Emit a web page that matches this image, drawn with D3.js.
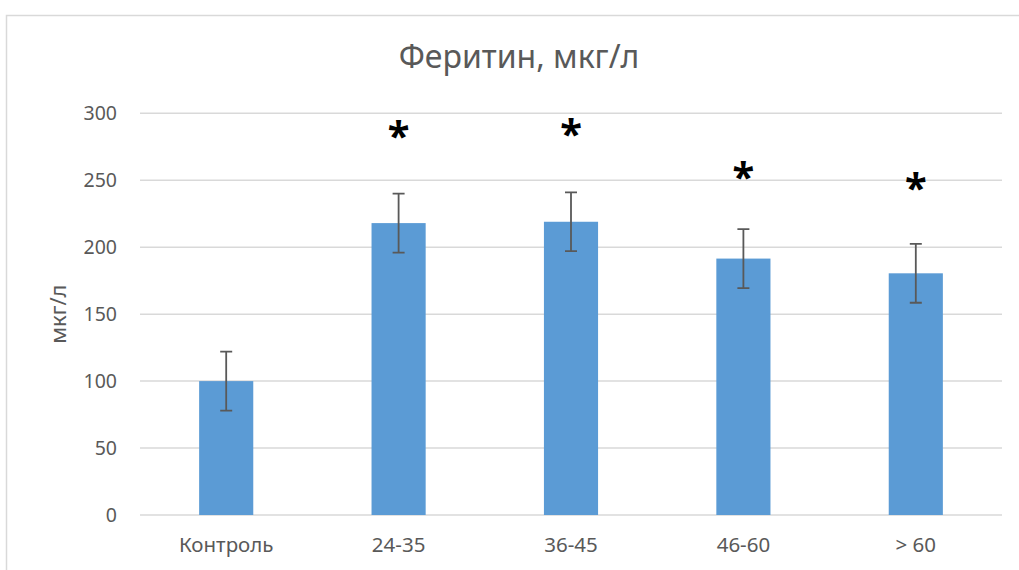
<!DOCTYPE html>
<html>
<head>
<meta charset="utf-8">
<script src="https://cdn.jsdelivr.net/npm/d3@7"></script>
<style>
  body { margin: 0; background: #fff; }
  svg { display: block; }
  text { font-family: "Noto Sans", "Open Sans", sans-serif; fill: #595959; }
</style>
</head>
<body>
<div id="chart"></div>
<script>
// data
const categories = ["Контроль", "24-35", "36-45", "46-60", "> 60"];
const means = [100, 218, 219, 191.5, 180.5];
const errors = [22, 22, 22, 22, 22];
const starLevels = [null, 287, 288, 256, 248];
const yTicks = [0, 50, 100, 150, 200, 250, 300];

const width = 1019, height = 570;
const margin = {top: 113.3, right: 17, bottom: 55, left: 140};

const svg = d3.select("#chart").append("svg")
    .attr("width", width)
    .attr("height", height);

// chart frame (only top and left edges visible)
svg.append("path")
    .attr("d", "M6.5,570 V15.5 H1019")
    .attr("fill", "none")
    .attr("stroke", "#d9d9d9")
    .attr("stroke-width", 1.5);

const x = d3.scaleBand()
    .domain(categories)
    .range([margin.left, width - margin.right])
    .paddingInner(0.686)
    .paddingOuter(0.343);

const y = d3.scaleLinear()
    .domain([0, 300])
    .range([height - margin.bottom, margin.top]);

// gridlines
svg.append("g")
    .selectAll("line")
    .data(yTicks)
    .enter()
    .append("line")
    .attr("x1", margin.left)
    .attr("x2", width - margin.right)
    .attr("y1", d => y(d))
    .attr("y2", d => y(d))
    .attr("stroke", "#d9d9d9")
    .attr("stroke-width", 1.5);

// y axis labels
const yAxis = d3.axisLeft(y).tickValues(yTicks).tickSize(0).tickPadding(23);
svg.append("g")
    .attr("transform", `translate(${margin.left},0)`)
    .call(yAxis)
    .call(g => g.select(".domain").remove())
    .selectAll("text")
    .style("font-family", "Noto Sans")
    .style("font-size", "19.5px")
    .attr("fill", "#595959");

// x axis labels
const xAxis = d3.axisBottom(x).tickSize(0).tickPadding(22);
svg.append("g")
    .attr("transform", `translate(0,${y(0)})`)
    .call(xAxis)
    .call(g => g.select(".domain").remove())
    .selectAll("text")
    .style("font-family", "Noto Sans")
    .style("font-size", "20.5px")
    .attr("fill", "#595959");

// bars
svg.append("g")
    .selectAll("rect")
    .data(means)
    .enter()
    .append("rect")
    .attr("x", (d, i) => x(categories[i]))
    .attr("width", x.bandwidth())
    .attr("y", d => y(d))
    .attr("height", d => y(0) - y(d))
    .attr("fill", "#5b9bd5");

// error bars
const eb = svg.append("g")
    .attr("stroke", "#595959")
    .attr("stroke-width", 1.8)
    .attr("fill", "none");
const cx = i => x(categories[i]) + x.bandwidth() / 2;
eb.selectAll("path")
    .data(means)
    .enter()
    .append("path")
    .attr("d", (d, i) => {
        const c = cx(i), t = y(d + errors[i]), b = y(d - errors[i]);
        return `M${c - 6},${t}H${c + 6}M${c},${t}V${b}M${c - 6},${b}H${c + 6}`;
    });

// significance asterisks
svg.append("g")
    .selectAll("text")
    .data(starLevels)
    .enter()
    .filter(d => d !== null)
    .append("text")
    .attr("x", (d, i) => cx(starLevels.indexOf(d)))
    .attr("y", d => y(d) + 19)
    .attr("text-anchor", "middle")
    .style("font-family", "Noto Sans")
    .style("font-size", "40px")
    .style("font-weight", "bold")
    .style("fill", "#000")
    .text("*");

// title
svg.append("text")
    .attr("x", 519)
    .attr("y", 68)
    .attr("text-anchor", "middle")
    .style("font-size", "32px")
    .text("Феритин, мкг/л");

// y axis title
svg.append("text")
    .attr("transform", `translate(66,${y(150)}) rotate(-90)`)
    .attr("text-anchor", "middle")
    .style("font-size", "22px")
    .text("мкг/л");
</script>
</body>
</html>
